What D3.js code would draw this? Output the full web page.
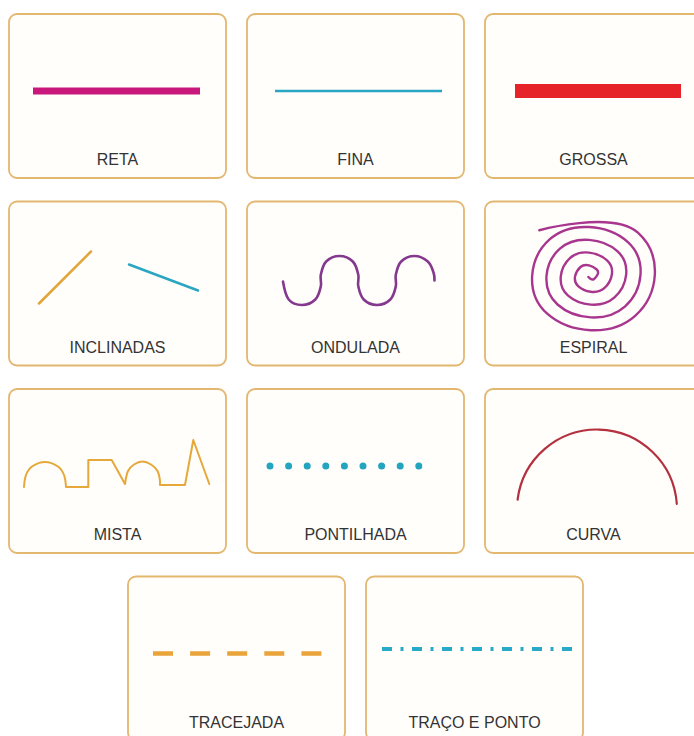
<!DOCTYPE html>
<html>
<head>
<meta charset="utf-8">
<script src="https://cdn.jsdelivr.net/npm/d3@7"></script>
<style>
  body { margin: 0; background: #ffffff; }
  .card { fill: #fffefb; stroke: #e3b76f; stroke-width: 1.8; }
  .card-label { font-family: 'Liberation Sans', Arial, sans-serif; font-size: 16px; fill: #333333; text-anchor: middle; }
  .shape { fill: none; }
</style>
</head>
<body>
<div id="chart"></div>
<script>
// card captions, in reading order
var cardLabels = ['RETA', 'FINA', 'GROSSA', 'INCLINADAS', 'ONDULADA', 'ESPIRAL',
  'MISTA', 'PONTILHADA', 'CURVA', 'TRACEJADA', 'TRAÇO E PONTO'];

// shape geometry, in card units (card is 217 x 164, origin top left)
var retaLine = [[24, 77], [191, 77]];
var finaLine = [[28, 77], [195, 77]];
var grossaLine = [[30, 77], [196, 77]];
var inclinadaA = [[30, 102], [82, 50]];
var inclinadaB = [[120, 63], [189, 89]];
var onduladaPoints = [
  [36, 80], [41.7, 98], [55, 103.5], [68.3, 98], [73.8, 84.8],
  [73.8, 73.3], [79.2, 60], [92.5, 54.5], [105.8, 60], [111.3, 73.3],
  [111.3, 84.8], [116.7, 98], [130, 103.5], [143.3, 98], [148.8, 84.8],
  [148.8, 73.3], [154.2, 60], [167.5, 54.5], [180.8, 60], [186.5, 71], [187.5, 79]
];
var espiralCenter = [105, 74];
var espiralRadii = [64, 60.5, 57, 54, 51, 47.5, 44, 41, 38, 34.5,
  31, 28, 25, 21.5, 18, 15, 12, 8.5, 5, 2];
var mistaSegments = [
  { kind: 'round', points: [[15, 98], [17, 86], [23, 77.5], [36, 73], [49, 77.5], [55, 86], [57, 98]] },
  { kind: 'straight', points: [[57, 98], [79.3, 98], [79.3, 71], [102.7, 71], [116, 95]] },
  { kind: 'round', points: [[116, 95], [119, 82], [125, 75.5], [133.5, 72.5], [142, 75.5], [148.5, 82], [151, 92]] },
  { kind: 'straight', points: [[151, 92], [151, 96], [176, 96], [184.3, 51], [200.3, 95]] }
];
var pontilhadaLine = [[23, 77], [190.4, 77]];
var curvaArc = { center: [112, 120.5], radius: 80, fromDeg: -173, toDeg: -4 };
var tracejadaLine = [[25, 77], [193.4, 77]];
var tracoPontoLine = [[16, 72.5], [206, 72.5]];

// looks
var styles = {
  'RETA': { color: '#c9187c', width: 7, cap: 'butt' },
  'FINA': { color: '#2ba6c2', width: 2.5, cap: 'butt' },
  'GROSSA': { color: '#e52329', width: 14, cap: 'butt' },
  'INCLINADA_A': { color: '#e2a53c', width: 2.5, cap: 'round' },
  'INCLINADA_B': { color: '#2ba6c2', width: 2.5, cap: 'round' },
  'ONDULADA': { color: '#84398f', width: 2.6, cap: 'round' },
  'ESPIRAL': { color: '#a8368e', width: 2.4, cap: 'round' },
  'MISTA': { color: '#e6a83a', width: 2, cap: 'round' },
  'PONTILHADA': { color: '#23a5bf', width: 7, cap: 'round', dash: '0 18.6' },
  'CURVA': { color: '#b3303f', width: 2.2, cap: 'round' },
  'TRACEJADA': { color: '#e9a43a', width: 4.5, cap: 'butt', dash: '20 17.1' },
  'TRACO': { color: '#27a9c8', width: 4, cap: 'butt', dash: '10 8.5 3 8.5' }
};

var width = 694, height = 736;
var cardW = 217, cardH = 164;

var colX = d3.scaleLinear().domain([0, 2]).range([9, 485]);
var rowY = d3.scaleLinear().domain([0, 3]).range([14, 576.5]);
var ux = d3.scaleLinear().domain([0, 217]).range([0, cardW]);
var uy = d3.scaleLinear().domain([0, 164]).range([0, cardH]);

var line = d3.line()
  .x(function(d) { return ux(d[0]); })
  .y(function(d) { return uy(d[1]); });

var svg = d3.select('#chart').append('svg')
  .attr('width', width)
  .attr('height', height);

var cards = svg.selectAll('.card-g')
  .data(cardLabels)
  .enter()
  .append('g')
  .attr('class', 'card-g')
  .attr('transform', function(d, i) {
    var row = Math.floor(i / 3);
    var col = row === 3 ? (i % 3) + 0.5 : i % 3;
    return 'translate(' + colX(col) + ',' + rowY(row) + ')';
  });

cards.append('rect')
  .attr('class', 'card')
  .attr('width', cardW)
  .attr('height', cardH)
  .attr('rx', 8);

cards.append('text')
  .attr('class', 'card-label')
  .attr('x', cardW / 2)
  .attr('y', uy(151))
  .text(function(d) { return d; });

function stroke(sel, key) {
  var s = styles[key];
  sel.attr('class', 'shape')
    .attr('stroke', s.color)
    .attr('stroke-width', s.width)
    .attr('stroke-linecap', s.cap)
    .attr('stroke-linejoin', 'round');
  if (s.dash) sel.attr('stroke-dasharray', s.dash);
  return sel;
}

function card(label) {
  return cards.filter(function(d) { return d === label; });
}

card('RETA').append('path').attr('d', line(retaLine)).call(stroke, 'RETA');
card('FINA').append('path').attr('d', line(finaLine)).call(stroke, 'FINA');
card('GROSSA').append('path').attr('d', line(grossaLine)).call(stroke, 'GROSSA');
card('INCLINADAS').append('path').attr('d', line(inclinadaA)).call(stroke, 'INCLINADA_A');
card('INCLINADAS').append('path').attr('d', line(inclinadaB)).call(stroke, 'INCLINADA_B');

card('ONDULADA').append('path')
  .attr('d', line.curve(d3.curveCardinal.tension(-0.1))(onduladaPoints))
  .call(stroke, 'ONDULADA');
line.curve(d3.curveLinear);

// spiral: one point per quarter turn, from the outer end inwards.
// negative tension so quarter turns come out round, not square
var turn = d3.scaleLinear().domain([0, 1]).range([-Math.PI / 4, Math.PI / 4]);
var spiral = d3.lineRadial()
  .angle(function(d, i) { return turn(i); })
  .radius(function(d) { return d; })
  .curve(d3.curveCardinal.tension(-0.57));
card('ESPIRAL').append('path')
  .attr('d', spiral(espiralRadii))
  .attr('transform', 'translate(' + ux(espiralCenter[0]) + ',' + uy(espiralCenter[1]) + ') scale(1.12,1)')
  .attr('vector-effect', 'non-scaling-stroke')
  .call(stroke, 'ESPIRAL');

var mistaPath = mistaSegments.map(function(seg) {
  return d3.line()
    .x(function(d) { return ux(d[0]); })
    .y(function(d) { return uy(d[1]); })
    .curve(seg.kind === 'round' ? d3.curveCardinal.tension(-0.1) : d3.curveLinear)(seg.points);
}).join('');
card('MISTA').append('path').attr('d', mistaPath).call(stroke, 'MISTA');

card('PONTILHADA').append('path').attr('d', line(pontilhadaLine)).call(stroke, 'PONTILHADA');

var arcPath = d3.path();
arcPath.arc(ux(curvaArc.center[0]), uy(curvaArc.center[1]), curvaArc.radius,
  curvaArc.fromDeg * Math.PI / 180, curvaArc.toDeg * Math.PI / 180);
card('CURVA').append('path').attr('d', arcPath.toString()).call(stroke, 'CURVA');

card('TRACEJADA').append('path').attr('d', line(tracejadaLine)).call(stroke, 'TRACEJADA');
card('TRAÇO E PONTO').append('path').attr('d', line(tracoPontoLine)).call(stroke, 'TRACO');
</script>
</body>
</html>
